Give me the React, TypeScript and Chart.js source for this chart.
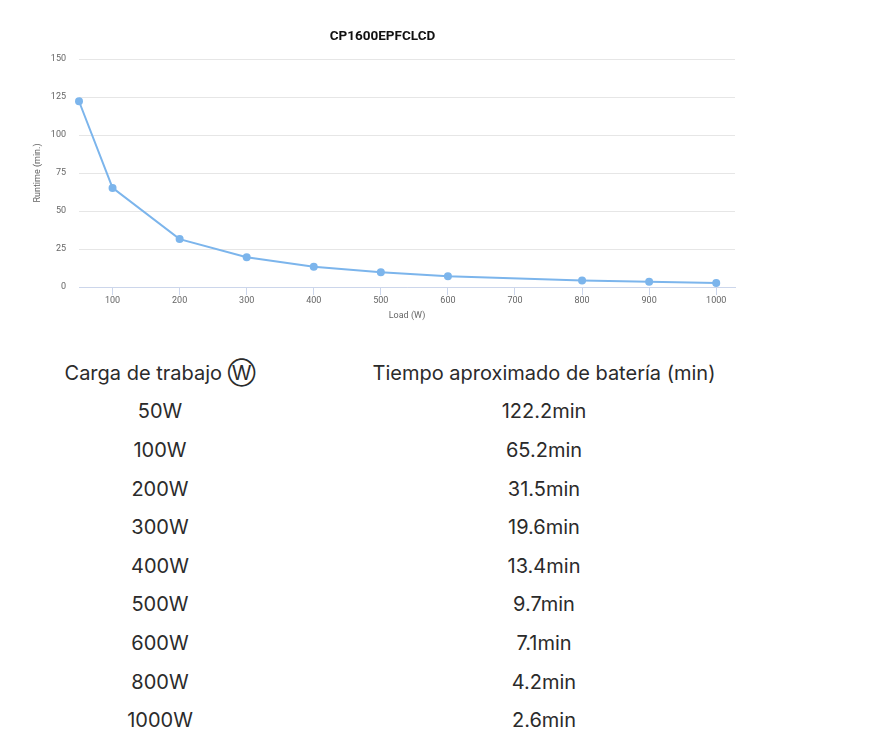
import React, { useEffect, useRef } from "react";
import { Chart, registerables } from "chart.js";

Chart.register(...registerables);

const chartTitle = "CP1600EPFCLCD";
const xTitle = "Load (W)";
const yTitle = "Runtime (min.)";
const loads = [50, 100, 200, 300, 400, 500, 600, 800, 900, 1000];
const runtimes = [122.2, 65.2, 31.5, 19.6, 13.4, 9.7, 7.1, 4.2, 3.4, 2.6];
const xTicks = [100, 200, 300, 400, 500, 600, 700, 800, 900, 1000];
const yTicks = [0, 25, 50, 75, 100, 125, 150];

const tableHeaders = ["Carga de trabajo \u24CC", "Tiempo aproximado de batería (min)"];
const tableLoads = ["50W", "100W", "200W", "300W", "400W", "500W", "600W", "800W", "1000W"];
const tableTimes = ["122.2min", "65.2min", "31.5min", "19.6min", "13.4min", "9.7min", "7.1min", "4.2min", "2.6min"];

const CW = 765;
const CH = 330;

const titlePlugin = {
  id: "centeredTitle",
  afterDraw(chart: any) {
    const ctx = chart.ctx;
    ctx.save();
    ctx.font = "bold 13.5px Roboto";
    ctx.fillStyle = "#111";
    ctx.textAlign = "center";
    ctx.textBaseline = "middle";
    ctx.fillText(chartTitle, chart.width / 2, 37);
    ctx.restore();
  },
};

export default function App() {
  const ref = useRef<HTMLCanvasElement | null>(null);

  useEffect(() => {
    if (!ref.current) return;
    const chart = new Chart(ref.current, {
      type: "line",
      data: {
        datasets: [
          {
            data: loads.map((x, i) => ({ x, y: runtimes[i] })),
            borderColor: "#7cb5ec",
            backgroundColor: "#7cb5ec",
            borderWidth: 2,
            pointRadius: 4,
            pointHoverRadius: 4,
            pointBorderWidth: 0,
            tension: 0,
            clip: false,
          } as any,
        ],
      },
      options: {
        animation: false,
        responsive: false,
        maintainAspectRatio: false,
        layout: { padding: { left: 0, right: 30, top: 59, bottom: 0 } },
        plugins: {
          legend: { display: false },
          tooltip: { enabled: false },
          title: { display: false },
        },
        scales: {
          x: {
            type: "linear",
            min: 50,
            max: 1028,
            afterBuildTicks: (s: any) => {
              s.ticks = xTicks.map((v) => ({ value: v }));
            },
            afterFit: (s: any) => {
              s.height = CH - 287;
            },
            grid: {
              drawOnChartArea: false,
              drawTicks: true,
              tickLength: 8,
              color: "#ccd6eb",
            },
            border: { display: true, color: "#ccd6eb", width: 1 },
            ticks: {
              color: "#666",
              font: { family: "Roboto", size: 9 },
              padding: 0,
              maxRotation: 0,
              autoSkip: false,
              callback: (v: any) => String(v),
            },
            title: {
              display: true,
              text: xTitle,
              color: "#666",
              font: { family: "Roboto", size: 9 },
              padding: { top: 0, bottom: 8.6 },
            },
          },
          y: {
            type: "linear",
            min: 0,
            max: 150,
            afterBuildTicks: (s: any) => {
              s.ticks = yTicks.map((v) => ({ value: v }));
            },
            afterFit: (s: any) => {
              s.width = 79;
            },
            grid: { color: "#e6e6e6", drawTicks: false, lineWidth: 1 },
            border: { display: false },
            ticks: {
              color: "#666",
              font: { family: "Roboto", size: 9 },
              padding: 13,
              callback: (v: any) => String(v),
            },
            title: {
              display: true,
              text: yTitle,
              color: "#666",
              font: { family: "Roboto", size: 9 },
              padding: { top: 32.6, bottom: 0 },
            },
          },
        },
      },
      plugins: [titlePlugin],
    });
    return () => chart.destroy();
  }, []);

  const rowH = 38.6;
  const top0 = 373 - rowH / 2;
  const rows = [tableHeaders, ...tableLoads.map((l, i) => [l, tableTimes[i]])];

  const cell = (left: number, width: number, i: number): React.CSSProperties => ({
    position: "absolute",
    left,
    width,
    top: top0 + i * rowH,
    height: rowH,
    lineHeight: rowH + "px",
    textAlign: "center",
    fontFamily: "Inter, 'DejaVu Sans', sans-serif",
    fontSize: 20,
    color: "#2b2b2b",
    whiteSpace: "nowrap",
  });

  return (
    <div style={{ position: "absolute", left: 0, top: 0, width: 886, height: 740, background: "#fff" }}>
      <canvas ref={ref} width={CW} height={CH} style={{ position: "absolute", left: 0, top: 0, width: CW, height: CH }} />
      {rows.map((r, i) => (
        <React.Fragment key={i}>
          <div style={cell(40, 240, i)}>{r[0]}</div>
          <div style={cell(344, 400, i)}>{r[1]}</div>
        </React.Fragment>
      ))}
    </div>
  );
}
